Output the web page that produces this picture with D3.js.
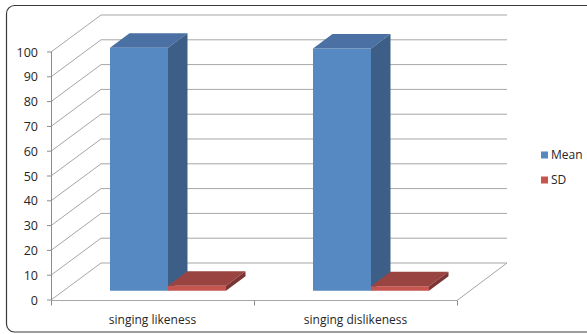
<!DOCTYPE html>
<html>
<head>
<meta charset="utf-8">
<script src="https://cdn.jsdelivr.net/npm/d3@7"></script>
<style>
  html, body { margin: 0; padding: 0; background: #fff; }
  svg { display: block; }
  text { font-family: "Open Sans", "Liberation Sans", sans-serif; fill: #262626; }
</style>
</head>
<body>
<svg id="chart" width="587" height="334"></svg>
<script>
// Chart data
const categories = ["singing likeness", "singing dislikeness"];
const seriesNames = ["Mean", "SD"];
const meanValues = [98.0, 97.7];
const sdValues = [2.0, 1.8];
const yTicks = [0, 10, 20, 30, 40, 50, 60, 70, 80, 90, 100];

const seriesColors = {
  Mean: { front: "#5689c1", top: "#4a70a4", side: "#3c5e87" },
  SD:   { front: "#c6544f", top: "#9a4442", side: "#7d3533" }
};

const svg = d3.select("#chart");

// Outer frame
svg.append("rect")
  .attr("x", 6.5).attr("y", 5.5)
  .attr("width", 620).attr("height", 326.5)
  .attr("rx", 8).attr("ry", 8)
  .attr("fill", "#fff").attr("stroke", "#3a3a3a").attr("stroke-width", 1.2);

// Oblique projection: front plane scales plus a depth offset
const x0 = d3.scaleBand().domain(categories).range([51, 457]);
const y = d3.scaleLinear().domain([0, 100]).range([300, 52]);
const DEPTH = { dx: 50, dy: -37 };          // full floor depth
const BAR_PLANE = { dx: 12.5, dy: -9.25 };  // front face of the columns
const BAR_DEPTH = { dx: 19.5, dy: -14.5 };  // thickness of the columns
const barW = x0.bandwidth() / 3.5;           // gap width 150%
const x1 = d3.scaleBand().domain(seriesNames)
  .range([x0.bandwidth() * 0.229, x0.bandwidth() * 0.229 + 2 * barW]);

const grid = svg.append("g").attr("stroke", "#a6a6a6").attr("stroke-width", 1).attr("fill", "none");
const xL = x0.range()[0], xR = x0.range()[1];

// Side wall diagonals and back wall gridlines
yTicks.forEach(t => {
  const yy = y(t);
  grid.append("path").attr("d",
    `M${xL},${yy}L${xL + DEPTH.dx},${yy + DEPTH.dy}L${xR + DEPTH.dx},${yy + DEPTH.dy}`);
});
// Floor front edge and right edge
grid.append("path").attr("d",
  `M${xL},${y(0) + 0.5}L${xR},${y(0) + 0.5}L${xR + DEPTH.dx},${y(0) + DEPTH.dy}`);

// Value axis
const axisG = svg.append("g").attr("stroke", "#8c8c8c").attr("stroke-width", 1);
axisG.append("line").attr("x1", xL + 0.5).attr("x2", xL + 0.5).attr("y1", y(100)).attr("y2", y(0) + 0.5);
yTicks.forEach(t => {
  axisG.append("line").attr("x1", xL - 4).attr("x2", xL + 0.5).attr("y1", y(t)).attr("y2", y(t));
});
// Category ticks
const catEdges = [xL, ...categories.map(c => x0(c) + x0.bandwidth())];
catEdges.forEach(xe => {
  axisG.append("line").attr("x1", xe + 0.5).attr("x2", xe + 0.5).attr("y1", y(0) + 0.5).attr("y2", y(0) + 5.5);
});

// Tick labels
svg.append("g").selectAll("text").data(yTicks).join("text")
  .attr("x", 38).attr("y", d => y(d))
  .attr("dy", "0.36em")
  .attr("text-anchor", "end")
  .attr("font-size", 12.5)
  .text(d => d);

// Category labels
svg.append("g").selectAll("text").data(categories).join("text")
  .attr("x", d => x0(d) + x0.bandwidth() / 2)
  .attr("y", 324)
  .attr("text-anchor", "middle")
  .attr("font-size", 12)
  .text(d => d);

// Columns
const seriesValues = { Mean: meanValues, SD: sdValues };
const bars = svg.append("g");
categories.forEach((cat, i) => {
  seriesNames.forEach(s => {
    const v = seriesValues[s][i];
    const c = seriesColors[s];
    const xa = x0(cat) + x1(s) + BAR_PLANE.dx;
    const xb = xa + x1.bandwidth();
    const yb = y(0) + BAR_PLANE.dy;
    const yt = y(v) + BAR_PLANE.dy;
    const ddx = BAR_DEPTH.dx, ddy = BAR_DEPTH.dy;
    // front face
    bars.append("path").attr("fill", c.front)
      .attr("d", `M${xa},${yb}L${xa},${yt}L${xb},${yt}L${xb},${yb}Z`);
    // top face
    bars.append("path").attr("fill", c.top)
      .attr("d", `M${xa},${yt}L${xa + ddx},${yt + ddy}L${xb + ddx},${yt + ddy}L${xb},${yt}Z`);
    // right side face
    bars.append("path").attr("fill", c.side)
      .attr("d", `M${xb},${yt}L${xb + ddx},${yt + ddy}L${xb + ddx},${yb + ddy}L${xb},${yb}Z`);
  });
});

// Legend
const legend = svg.append("g");
seriesNames.forEach((s, i) => {
  const ly = 155 + i * 25;
  legend.append("rect").attr("x", 541).attr("y", ly - 3.5).attr("width", 7).attr("height", 7)
    .attr("fill", seriesColors[s].front);
  legend.append("text").attr("x", 551).attr("y", ly).attr("dy", "0.36em")
    .attr("font-size", 12).text(s);
});
</script>
</body>
</html>
